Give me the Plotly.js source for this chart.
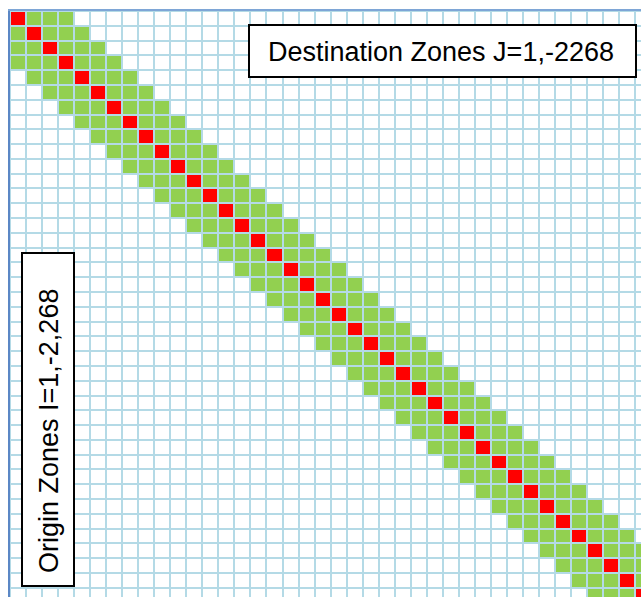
<!DOCTYPE html>
<html>
<head>
<meta charset="utf-8">
<script src="https://cdn.plot.ly/plotly-3.0.1.min.js"></script>
<style>html,body{margin:0;padding:0;background:#fff;}#chart{width:641px;height:597px;}</style>
</head>
<body>
<div id="chart"></div>
<script>
// Origin zone rows (I) and destination zone columns (J) visible in the picture
var rowIndex = [0,1,2,3,4,5,6,7,8,9,10,11,12,13,14,15,16,17,18,19,20,21,22,23,24,25,26,27,28,29,30,31,32,33,34,35,36,37,38,39];
var colIndex = [0,1,2,3,4,5,6,7,8,9,10,11,12,13,14,15,16,17,18,19,20,21,22,23,24,25,26,27,28,29,30,31,32,33,34,35,36,37,38,39];
// red (intrazonal) cell column for each row
var redCol    = [0,1,2,3,4,5,6,7,8,9,10,11,12,13,14,15,16,17,18,19,20,21,22,23,24,25,26,27,28,29,30,31,32,33,34,35,36,37,38,39];
// green band first and last column for each row
var bandStart = [0,0,0,0,1,2,3,4,5,6,7,8,9,10,11,12,13,14,15,16,17,18,19,20,21,22,23,24,25,26,27,28,29,30,31,32,33,34,35,36];
var bandEnd   = [3,4,5,6,7,8,9,10,11,12,13,14,15,16,17,18,19,20,21,22,23,24,25,26,27,28,29,30,31,32,33,34,35,36,37,38,39,39,39,39];
var titleTop  = "Destination Zones J=1,-2268";
var titleLeft = "Origin Zones I=1,-2,268";

var z = rowIndex.map(function(r, i){
  return colIndex.map(function(c){
    if (c === redCol[i]) return 2;
    if (c >= bandStart[i] && c <= bandEnd[i]) return 1;
    return 0;
  });
});

var W = 641, H = 597, ML = 10, MT = 11;
var PW = W - ML, PH = H - MT;
function px(x){ return (x - ML) / PW; }
function py(y){ return 1 - (y - MT) / PH; }

var trace = {
  type: 'heatmap',
  x: colIndex, y: rowIndex, z: z,
  zmin: 0, zmax: 2,
  colorscale: [[0,'#ffffff'],[0.33,'#ffffff'],[0.33,'#92d050'],[0.66,'#92d050'],[0.66,'#ff0000'],[1,'#ff0000']],
  showscale: false, xgap: 2, ygap: 2, hoverinfo: 'skip'
};

var layout = {
  width: W, height: H,
  margin: {l: ML, r: 0, t: MT, b: 0, pad: 0},
  paper_bgcolor: '#ffffff',
  plot_bgcolor: '#b4dae6',
  showlegend: false,
  xaxis: {range: [-0.5, -0.5 + PW / 16.03], side: 'top', showgrid: false, zeroline: false,
          showticklabels: false, ticks: '', showline: true, linecolor: '#7ea6d6', linewidth: 2, fixedrange: true},
  yaxis: {range: [-0.5 + PH / 14.79, -0.5], showgrid: false, zeroline: false,
          showticklabels: false, ticks: '', showline: true, linecolor: '#5b87c5', linewidth: 2, fixedrange: true},
  shapes: [
    {type: 'rect', xref: 'paper', yref: 'paper', x0: px(249), x1: px(636), y0: py(77), y1: py(25),
     fillcolor: '#ffffff', line: {color: '#000000', width: 2}, layer: 'above'},
    {type: 'rect', xref: 'paper', yref: 'paper', x0: px(22), x1: px(74), y0: py(586), y1: py(253),
     fillcolor: '#ffffff', line: {color: '#000000', width: 2}, layer: 'above'}
  ],
  annotations: [
    {xref: 'paper', yref: 'paper', x: px(440.5), y: py(52), text: titleTop, showarrow: false,
     xanchor: 'center', yanchor: 'middle', font: {family: 'Liberation Sans, Arial, sans-serif', size: 27, color: '#000000'}},
    {xref: 'paper', yref: 'paper', x: px(49), y: py(431), text: titleLeft, showarrow: false, textangle: -90,
     xanchor: 'center', yanchor: 'middle', font: {family: 'Liberation Sans, Arial, sans-serif', size: 27, color: '#000000'}}
  ]
};

Plotly.newPlot('chart', [trace], layout, {displayModeBar: false, staticPlot: true});
</script>
</body>
</html>
